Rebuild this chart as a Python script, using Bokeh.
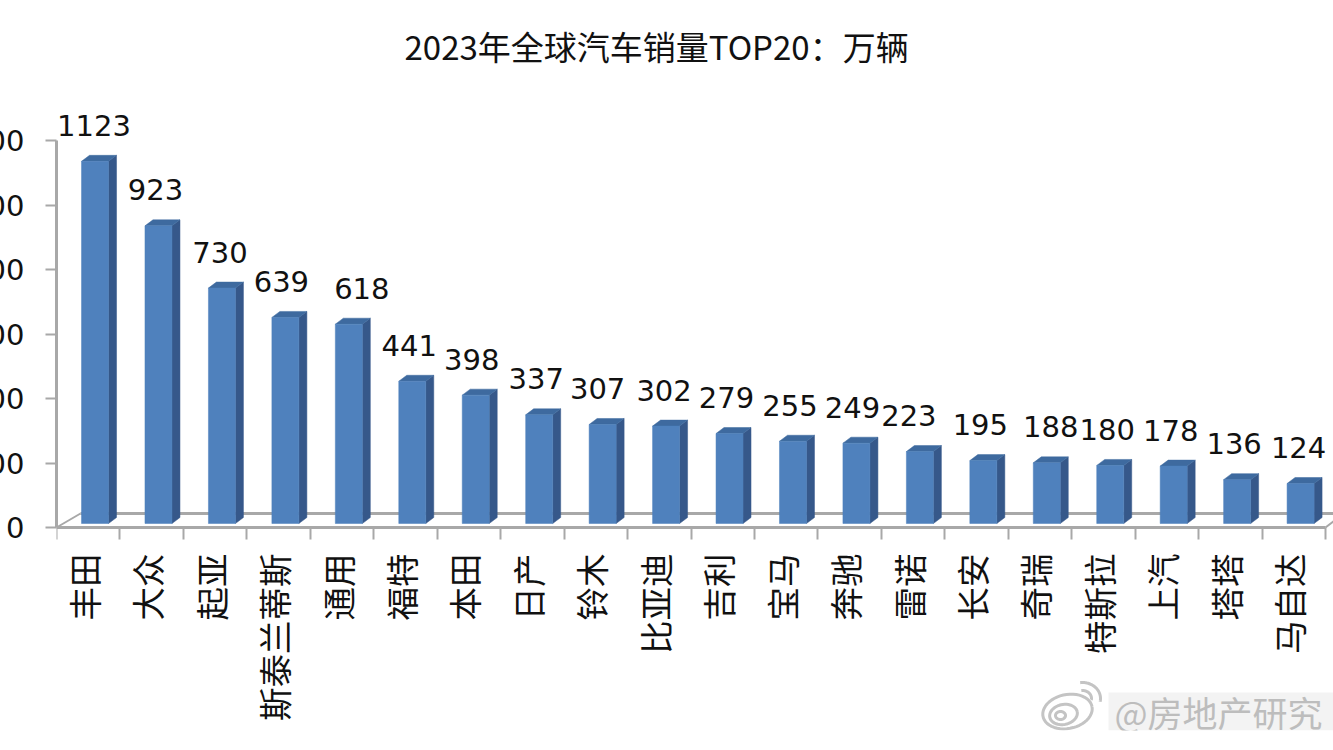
import math
import numpy as np
from bokeh.plotting import figure
from bokeh.embed import file_html
from bokeh.resources import INLINE
from bokeh.core.properties import value
from bokeh.models import ColumnDataSource, LinearAxis, FixedTicker, Range1d

brands = ["丰田", "大众", "起亚", "斯泰兰蒂斯", "通用", "福特", "本田", "日产", "铃木", "比亚迪",
          "吉利", "宝马", "奔驰", "雷诺", "长安", "奇瑞", "特斯拉", "上汽", "塔塔", "马自达"]
sales = [1123, 923, 730, 639, 618, 441, 398, 337, 307, 302,
         279, 255, 249, 223, 195, 188, 180, 178, 136, 124]
y_ticks = [0, 200, 400, 600, 800, 1000, 1200]
title_text = "2023年全球汽车销量TOP20\uff1a万辆"
watermark = "@房地产研究"

# label nudges (px) as placed by hand in the source chart
label_dx = [-1, -3, -2, -4, 13, -3, -4, -3, -5, -2, -3, -3, -4, -11, -3, 4, -3, -3, -3, -2]

PX_X = 63.45        # px per category
PX_Y = 0.3225       # px per sales unit
FRAME_L, FRAME_R, FRAME_T, FRAME_B, ZERO_Y = 56, 1333, 0, 730, 527
LEFT_BORDER = 120
HEIGHT = 750

GRAY = "#a8a8a8"
FONT_NUM = "DejaVu Sans"
FONT_CJK = "Noto Sans CJK SC"

def px(x):
    return (np.asarray(x, dtype=float) - FRAME_L) / PX_X

def py(y):
    return (ZERO_Y - np.asarray(y, dtype=float)) / PX_Y

p = figure(width=LEFT_BORDER + FRAME_R - FRAME_L, height=HEIGHT,
           output_backend="svg", toolbar_location=None,
           x_range=Range1d(0, (FRAME_R - FRAME_L) / PX_X),
           y_range=Range1d((ZERO_Y - FRAME_B) / PX_Y, (ZERO_Y - FRAME_T) / PX_Y),
           min_border_left=LEFT_BORDER, min_border_right=0, min_border_top=FRAME_T,
           min_border_bottom=HEIGHT - FRAME_B, x_axis_type=None, y_axis_type=None,
           margin=(0, 0, 0, FRAME_L - LEFT_BORDER))
p.outline_line_color = None
p.xgrid.visible = False
p.ygrid.visible = False
p.background_fill_color = "white"

yax = LinearAxis(ticker=FixedTicker(ticks=y_ticks), bounds=(0, 1200))
yax.axis_line_color = GRAY
yax.axis_line_width = 3
yax.major_tick_line_color = GRAY
yax.major_tick_line_width = 2
yax.major_tick_in = 0
yax.major_tick_out = 11
yax.minor_tick_line_color = None
yax.major_label_text_font = FONT_NUM
yax.major_label_text_font_size = "29px"
yax.major_label_text_color = "#111111"
yax.major_label_standoff = 21
p.add_layout(yax, "left")

edges = list(range(len(brands) + 1))
xax = LinearAxis(ticker=FixedTicker(ticks=edges), bounds=(0, len(brands)), fixed_location=0)
xax.axis_line_color = GRAY
xax.axis_line_width = 3
xax.major_tick_line_color = GRAY
xax.major_tick_line_width = 2
xax.minor_tick_line_color = None
xax.major_tick_in = 0
xax.major_tick_out = 12
xax.major_label_text_font_size = "1px"
xax.major_label_text_color = None
xax.major_label_standoff = 0
p.add_layout(xax, "below")

centers = [i + 0.5 for i in range(len(brands))]

# title and category labels live inside the frame, which spans the page
p.text(x=[px(404).item()], y=[py(45).item()], text=[title_text], text_align="left", text_baseline="middle",
       text_font=value(FONT_CJK), text_font_size="33px", text_color="#111111")
p.text(x=[c - 5 / PX_X for c in centers], y=0, text=brands, angle=math.pi / 2, y_offset=26,
       text_align="right", text_baseline="middle",
       text_font=value(FONT_CJK), text_font_size="33.5px", text_color="#111111")

# floor of the 3D box
base = 4 / PX_Y
back = 14 / PX_Y
floor_dx = 24 / PX_X
p.line([0, floor_dx], [0, back], line_color=GRAY, line_width=2)
p.line([floor_dx, (FRAME_R - FRAME_L) / PX_X], [back, back], line_color=GRAY, line_width=3)
p.line([20, 20 + 9 / PX_X], [0, 7 / PX_Y], line_color=GRAY, line_width=2)

# 3D bars
half = 13.5 / PX_X
shift = 6.8 / PX_X
dx = 8 / PX_X
dy = 6 / PX_Y

lefts = [c + shift - half for c in centers]
rights = [c + shift + half for c in centers]
tops = [base + v for v in sales]

p.patches(
    xs=[[r, r + dx, r + dx, r] for r in rights],
    ys=[[base, base + dy, t + dy, t] for t in tops],
    fill_color="#36588a", line_color="#36588a", line_width=0.5)
p.patches(
    xs=[[l, l + dx, r + dx, r] for l, r in zip(lefts, rights)],
    ys=[[t, t + dy, t + dy, t] for t in tops],
    fill_color="#3e6a9f", line_color="#3e6a9f", line_width=0.5)
p.quad(left=lefts, right=rights, bottom=base, top=tops,
       fill_color="#4f81bd", line_color="#4f81bd", line_width=0.5)

# value labels
src = ColumnDataSource(dict(x=[c + shift for c in centers], y=tops,
                            t=[str(v) for v in sales], dx=label_dx))
p.text(x="x", y="y", text="t", source=src, x_offset="dx", y_offset=-36,
       text_align="center", text_baseline="middle",
       text_font=value(FONT_NUM), text_font_size="29px", text_color="#111111")

# watermark
p.quad(left=px(1108).item(), right=px(1333).item(), bottom=py(730).item(), top=py(692).item(),
       fill_color="#f3f3f3", line_color=None)
p.text(x=[px(1114).item()], y=[py(711).item()], text=[watermark], text_align="left", text_baseline="middle",
       text_font=value(FONT_CJK), text_font_size="35px", text_color="#bdbdbd")

def ell(cx, cy, a, b, t0=0.0, t1=2 * math.pi, rot=0.0):
    th = np.linspace(t0, t1, 48)
    x = a * np.cos(th)
    y = b * np.sin(th)
    c, s = math.cos(rot), math.sin(rot)
    return px(cx + x * c - y * s), py(cy + x * s + y * c)

for args in [(1067, 711, 25, 17, 0.0, 2 * math.pi, -0.2),
             (1063, 714, 14, 10, 0.0, 2 * math.pi, -0.2),
             (1060, 715, 5, 4, 0.0, 2 * math.pi, 0.0),
             (1082, 698, 18, 16, -1.7, 0.2, 0.0),
             (1082, 698, 9, 8, -1.7, 0.2, 0.0)]:
    xs, ys = ell(*args)
    p.line(xs.tolist(), ys.tolist(), line_color="#c4c4c4", line_width=3)

open("out.html", "w").write(file_html(p, INLINE))
